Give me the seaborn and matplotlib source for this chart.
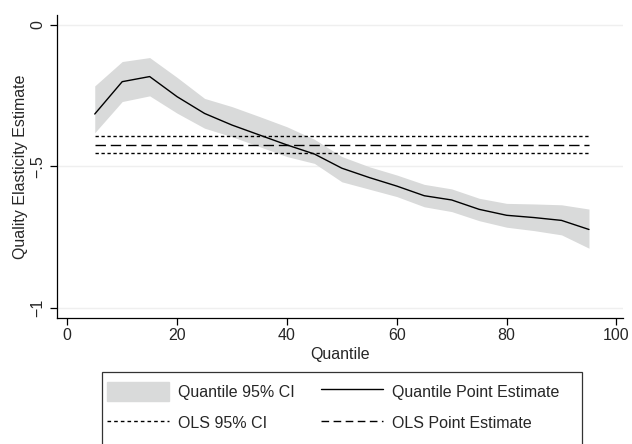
import numpy as np
import pandas as pd
import matplotlib
matplotlib.use("Agg")
import matplotlib.pyplot as plt
import seaborn as sns
from matplotlib.patches import Patch, Rectangle
from matplotlib.lines import Line2D

# ---- data ----
quantiles = [5, 10, 15, 20, 25, 30, 35, 40, 45, 50, 55, 60, 65, 70, 75, 80, 85, 90, 95]
point_est = [-0.315, -0.201, -0.183, -0.254, -0.313, -0.354, -0.389, -0.424, -0.456,
             -0.506, -0.539, -0.569, -0.603, -0.618, -0.651, -0.672, -0.680, -0.690, -0.722]
ci_upper = [-0.216, -0.130, -0.116, -0.186, -0.260, -0.289, -0.324, -0.360, -0.404,
            -0.465, -0.501, -0.530, -0.563, -0.579, -0.612, -0.630, -0.632, -0.635, -0.650]
ci_lower = [-0.381, -0.271, -0.251, -0.312, -0.365, -0.395, -0.430, -0.465, -0.489,
            -0.554, -0.580, -0.606, -0.642, -0.659, -0.691, -0.714, -0.726, -0.741, -0.788]
ols_point = -0.424
ols_upper = -0.392
ols_lower = -0.454
y_ticks = [0, -0.5, -1]
y_tick_labels = ["0", "\u2212.5", "\u22121"]
x_ticks = [0, 20, 40, 60, 80, 100]
x_tick_labels = ["0", "20", "40", "60", "80", "100"]
legend_labels = ["Quantile 95% CI", "Quantile Point Estimate", "OLS 95% CI", "OLS Point Estimate"]

df = pd.DataFrame({"quantile": quantiles, "est": point_est, "lo": ci_lower, "hi": ci_upper})

sns.set_style("white")
plt.rcParams["font.family"] = ["Liberation Sans", "DejaVu Sans"]
plt.rcParams["font.size"] = 11.5

fig = plt.figure(figsize=(6.32, 4.44), dpi=100)
ax = fig.add_axes([0.0897, 0.2838, 0.8961, 0.6824])

fill_color = "#d9dada"
ax.fill_between(df["quantile"], df["lo"], df["hi"], color=fill_color, linewidth=0, zorder=1)
sns.lineplot(data=df, x="quantile", y="est", ax=ax, color="black", linewidth=1.0, zorder=3)

dot_style = (0, (2.4, 1.9))
dash_style = (0, (7.5, 3.5))
xmin, xmax = min(quantiles), max(quantiles)
ax.hlines([ols_upper, ols_lower], xmin, xmax, colors="black", linewidth=1.0,
          linestyles=[dot_style], zorder=2)
ax.hlines([ols_point], xmin, xmax, colors="black", linewidth=1.0,
          linestyles=[dash_style], zorder=2)

ax.set_xlim(-1.93, 101.2)
ax.set_ylim(-1.034, 0.034)
ax.set_xticks(x_ticks)
ax.set_xticklabels(x_tick_labels)
ax.set_yticks(y_ticks)
ax.set_yticklabels(y_tick_labels, rotation=90, va="center")
for y in y_ticks:
    ax.axhline(y, color="#efefef", linewidth=1.0, zorder=0)

ax.set_xlabel("Quantile", labelpad=3)
ax.set_ylabel("Quality Elasticity Estimate", labelpad=2)
ax.tick_params(axis="both", direction="out", length=5, width=0.9, color="black",
               labelsize=11.5, bottom=True, left=True, pad=2)
ax.tick_params(axis="y", pad=3)
sns.despine(ax=ax)
for s in ["left", "bottom"]:
    ax.spines[s].set_color("black")
    ax.spines[s].set_linewidth(0.9)

# legend frame (extends beyond the bottom of the figure as in the reference)
W, H = 632, 444
fig.patches.append(Rectangle((101.7 / W, 1 - 470 / H), (581.7 - 101.7) / W, (470 - 371.7) / H,
                             transform=fig.transFigure, fill=False, edgecolor="#333333",
                             linewidth=0.9, zorder=5))
handles = [
    Patch(facecolor=fill_color, edgecolor=fill_color),
    Line2D([], [], color="black", linewidth=1.0),
    Line2D([], [], color="black", linewidth=1.0, linestyle=(0, (2.6, 2.2))),
    Line2D([], [], color="black", linewidth=1.0, linestyle=(0, (5.5, 3.2))),
]
order = [0, 2, 1, 3]
leg = fig.legend([handles[i] for i in order], [legend_labels[i] for i in order],
                 ncol=2, loc="upper left", bbox_to_anchor=(99 / W, 1 - 374 / H),
                 frameon=False, fontsize=11.5, handlelength=3.9, handleheight=1.5,
                 handletextpad=0.56, columnspacing=1.6, labelspacing=0.75, borderpad=0)

fig.savefig("out.png", dpi=100)
